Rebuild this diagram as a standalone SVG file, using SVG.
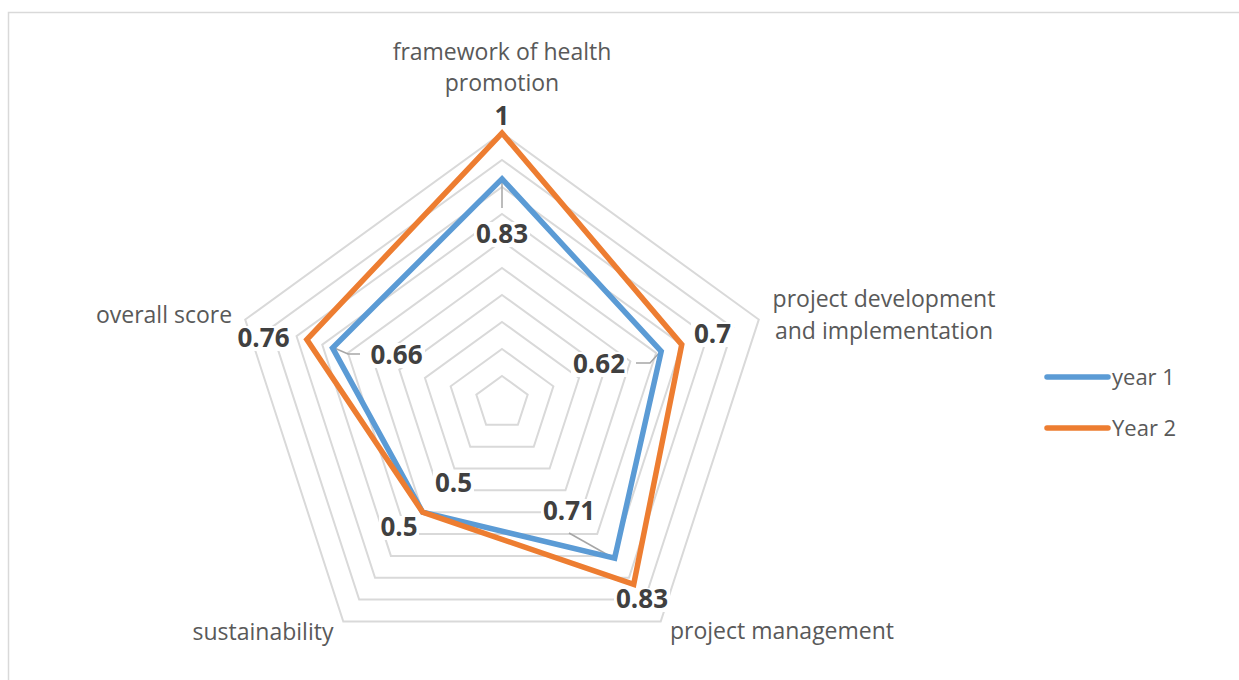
<svg xmlns="http://www.w3.org/2000/svg" width="1239" height="680" viewBox="0 0 1239 680">
<style>
.grid{fill:none;stroke:#d9d9d9;stroke-width:2}
.s1{fill:none;stroke:#5b9bd5;stroke-width:5.5;stroke-linejoin:miter}
.s2{fill:none;stroke:#ed7d31;stroke-width:5.5;stroke-linejoin:miter}
.lead{fill:none;stroke:#a6a6a6;stroke-width:1.5}
.ax{font-family:"Open Sans","Noto Sans",sans-serif;font-size:23px;fill:#595959;text-anchor:middle}
.dl{font-family:"Open Sans","Noto Sans",sans-serif;font-size:26px;font-weight:bold;fill:#404040;text-anchor:middle}
.lg{font-family:"Open Sans","Noto Sans",sans-serif;font-size:22px;fill:#595959}
.bg{fill:#ffffff}
</style>
<rect x="0" y="0" width="1239" height="680" fill="#ffffff"/>
<rect x="8.5" y="12.5" width="1240" height="680" fill="none" stroke="#d9d9d9" stroke-width="1.5"/>
<g id="grid">
<polygon class="grid" points="502,376 527.68,394.66 517.87,424.84 486.13,424.84 476.32,394.66"/>
<polygon class="grid" points="502,349 553.36,386.31 533.74,446.69 470.26,446.69 450.64,386.31"/>
<polygon class="grid" points="502,322 579.04,377.97 549.61,468.53 454.39,468.53 424.96,377.97"/>
<polygon class="grid" points="502,295 604.71,369.63 565.48,490.37 438.52,490.37 399.29,369.63"/>
<polygon class="grid" points="502,268 630.39,361.28 581.35,512.22 422.65,512.22 373.61,361.28"/>
<polygon class="grid" points="502,241 656.07,352.94 597.22,534.06 406.78,534.06 347.93,352.94"/>
<polygon class="grid" points="502,214 681.75,344.60 613.09,555.90 390.91,555.90 322.25,344.60"/>
<polygon class="grid" points="502,187 707.43,336.25 628.96,577.75 375.04,577.75 296.57,336.25"/>
<polygon class="grid" points="502,160 733.11,327.91 644.83,599.59 359.17,599.59 270.89,327.91"/>
<polygon class="grid" points="502,133 758.79,319.56 660.70,621.44 343.30,621.44 245.21,319.56"/>
</g>
<g id="axis-labels">
<text class="ax" x="502" y="60">framework of health</text>
<text class="ax" x="502" y="91">promotion</text>
<text class="ax" x="884" y="307">project development</text>
<text class="ax" x="884" y="339">and implementation</text>
<text class="ax" x="782" y="639">project management</text>
<text class="ax" x="263" y="640">sustainability</text>
<text class="ax" x="164" y="323">overall score</text>
</g>
<g id="connectors">
<polyline class="lead" points="502,180 502,208"/>
<polyline class="lead" points="636,363 650,363 660,352"/>
<polyline class="lead" points="332,347 348,354 360,354"/>
<polyline class="lead" points="569,533 615,559"/>
</g>
<g id="series-year1">
<polygon class="s1" points="502,178.9 661.21,351.27 614.68,558.09 422.65,512.22 332.52,347.93"/>
</g>
<g id="series-year2">
<polygon class="s2" points="502,133 681.75,344.60 633.72,584.30 422.65,512.22 306.84,339.59"/>
</g>
<g id="data-labels">
<rect class="bg" x="492" y="106" width="20" height="21"/>
<text class="dl" x="502" y="125">1</text>
<rect class="bg" x="474" y="222" width="56" height="25"/>
<text class="dl" x="502" y="243">0.83</text>
<rect class="bg" x="691" y="322" width="43" height="25"/>
<text class="dl" x="712.5" y="343">0.7</text>
<rect class="bg" x="571" y="352" width="56" height="25"/>
<text class="dl" x="599" y="373">0.62</text>
<rect class="bg" x="235" y="326" width="57" height="25"/>
<text class="dl" x="263.5" y="347">0.76</text>
<rect class="bg" x="368" y="343" width="57" height="25"/>
<text class="dl" x="396.5" y="364">0.66</text>
<rect class="bg" x="433" y="471" width="41" height="25"/>
<text class="dl" x="453.5" y="492">0.5</text>
<rect class="bg" x="379" y="516" width="40" height="24"/>
<text class="dl" x="399" y="536">0.5</text>
<rect class="bg" x="541" y="499" width="56" height="25"/>
<text class="dl" x="569" y="520">0.71</text>
<rect class="bg" x="614" y="588" width="56" height="24"/>
<text class="dl" x="642" y="608">0.83</text>
</g>
<g id="legend">
<line x1="1047" y1="377" x2="1108" y2="377" stroke="#5b9bd5" stroke-width="5.5" stroke-linecap="round"/>
<text class="lg" x="1112" y="385">year 1</text>
<line x1="1047" y1="428" x2="1108" y2="428" stroke="#ed7d31" stroke-width="5.5" stroke-linecap="round"/>
<text class="lg" x="1112" y="436">Year 2</text>
</g>
</svg>
